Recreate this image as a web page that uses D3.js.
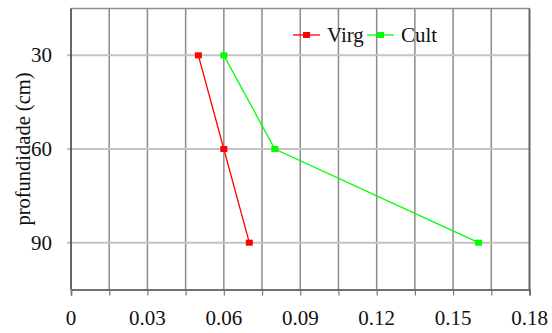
<!DOCTYPE html>
<meta charset="utf-8">
<head>
    <style>
        html, body { margin: 0; padding: 0; background: #fff; }
        svg text { font-family: "Liberation Serif", "Times New Roman", serif; fill: #111; }
    </style>
</head>
<body>
    <svg id="chart" width="552" height="333"></svg>
    <script src="https://cdn.jsdelivr.net/npm/d3@7"></script>
    <script>
        // values
        let depths = [30, 60, 90];
        let virg = [0.050, 0.060, 0.070];
        let cult = [0.060, 0.080, 0.160];
        let xTicks = [0, 0.03, 0.06, 0.09, 0.12, 0.15, 0.18];
        let series = [
            { name: 'Virg', values: virg, color: '#ff0000' },
            { name: 'Cult', values: cult, color: '#00ff00' }
        ];

        let margin = { left: 71, right: 22.5, top: 8.5, bottom: 43.5 };
        let width = 552, height = 333;
        let svg = d3.select('#chart');

        let x = d3.scaleLinear().domain([0, 0.18]).range([margin.left, width - margin.right]);
        let y = d3.scaleLinear().domain([15, 105]).range([margin.top, height - margin.bottom]);

        let minor = d3.range(0, 0.1801, 0.015);

        // vertical grid
        svg.append('g').selectAll('line').data(minor.slice(1, -1)).enter()
            .append('line')
            .attr('x1', d => x(d)).attr('x2', d => x(d))
            .attr('y1', y(15)).attr('y2', y(105))
            .attr('stroke', '#8c8c8c').attr('stroke-width', 1.5);

        // horizontal grid (with outward ticks)
        svg.append('g').selectAll('line').data(depths).enter()
            .append('line')
            .attr('x1', x(0) - 4).attr('x2', x(0.18))
            .attr('y1', d => y(d)).attr('y2', d => y(d))
            .attr('stroke', '#c3c3c3').attr('stroke-width', 2);

        // frame
        svg.append('line').attr('x1', x(0)).attr('x2', x(0.18)).attr('y1', y(15)).attr('y2', y(15))
            .attr('stroke', '#8c8c8c').attr('stroke-width', 1.5);
        svg.append('line').attr('x1', x(0.18)).attr('x2', x(0.18)).attr('y1', y(15)).attr('y2', y(105))
            .attr('stroke', '#666').attr('stroke-width', 2);
        svg.append('line').attr('x1', x(0)).attr('x2', x(0)).attr('y1', y(15)).attr('y2', y(105))
            .attr('stroke', '#333').attr('stroke-width', 1.5);

        // x axis
        let xAxis = d3.axisBottom(x).tickValues(minor).tickSize(6).tickFormat('');
        let gx = svg.append('g').attr('transform', 'translate(0,' + y(105) + ')').call(xAxis);
        gx.select('.domain').attr('stroke', '#444').attr('stroke-width', 1.5);
        gx.selectAll('.tick line').attr('stroke', '#777').attr('stroke-width', 1.2);

        svg.append('g').selectAll('text').data(xTicks).enter()
            .append('text')
            .attr('x', d => x(d)).attr('y', 325)
            .attr('text-anchor', 'middle')
            .style('font-size', '21px')
            .text(d => d === 0 ? '0' : d3.format('.2f')(d));

        // y tick labels
        svg.append('g').selectAll('text').data(depths).enter()
            .append('text')
            .attr('x', 52).attr('y', d => y(d))
            .attr('dy', '0.34em')
            .attr('text-anchor', 'end')
            .style('font-size', '21px')
            .text(d => d);

        svg.append('text')
            .attr('transform', 'translate(30,' + y(60) + ') rotate(-90)')
            .attr('text-anchor', 'middle')
            .style('font-size', '20.5px')
            .text('profundidade (cm)');

        // series
        let line = d3.line().x(d => x(d[0])).y(d => y(d[1]));
        series.forEach(s => {
            let pts = s.values.map((v, i) => [v, depths[i]]);
            svg.append('path').datum(pts)
                .attr('d', line)
                .attr('fill', 'none')
                .attr('stroke', s.color)
                .attr('stroke-width', 1.3);
            svg.append('g').selectAll('rect').data(pts).enter()
                .append('rect')
                .attr('x', d => x(d[0]) - 3.5).attr('y', d => y(d[1]) - 3)
                .attr('width', 7).attr('height', 6)
                .attr('fill', s.color);
        });

        // legend
        let legendX = [293, 367];
        series.forEach((s, i) => {
            let g = svg.append('g').attr('transform', 'translate(' + legendX[i] + ',35)');
            g.append('line').attr('x1', 0).attr('x2', 27).attr('y1', 0).attr('y2', 0)
                .attr('stroke', s.color).attr('stroke-width', 1.3);
            g.append('rect').attr('x', 10).attr('y', -3).attr('width', 7).attr('height', 6)
                .attr('fill', s.color);
            g.append('text').attr('x', 34).attr('y', 7)
                .style('font-size', '21px')
                .text(s.name);
        });
    </script>
</body>
</html>
